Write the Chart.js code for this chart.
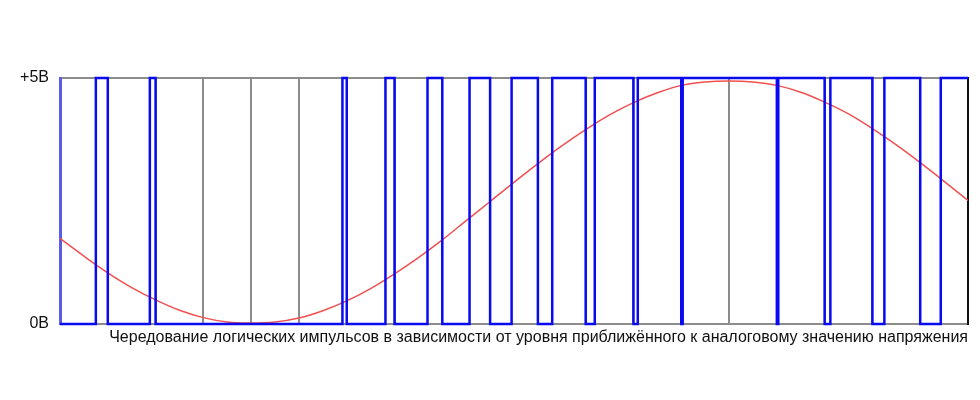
<!DOCTYPE html>
<html>
<head>
<meta charset="utf-8">
<title>ШИМ</title>
<script src="https://cdn.jsdelivr.net/npm/chart.js@4.4.0/dist/chart.umd.min.js"></script>
<style>
  body { margin: 0; background: #fff; }
  canvas { display: block; }
</style>
</head>
<body>
<canvas id="chart-pwm" width="980" height="400"></canvas>
<script>
// Number of pulse periods (one grid cell each)
const periodCount = 19;

// Share of each period where the output sits at +5V
const dutyCycle = [0.25, 0.12, 0, 0, 0, 0.09, 0.19, 0.31, 0.43, 0.55,
                   0.70, 0.81, 0.91, 0.97, 1, 0.97, 0.88, 0.75, 0.57];

// Analog voltage, read every half period
const analogX = [0, 0.5, 1, 1.5, 2, 2.5, 3, 3.5, 4, 4.5, 5, 5.5, 6, 6.5, 7, 7.5, 8, 8.5, 9, 9.5,
                 10, 10.5, 11, 11.5, 12, 12.5, 13, 13.5, 14, 14.5, 15, 15.5, 16, 16.5, 17, 17.5, 18, 18.5, 19];
const analogVolts = [1.74, 1.38, 1.04, 0.74, 0.49, 0.28, 0.13, 0.04, 0.02, 0.04, 0.12, 0.27, 0.47, 0.72,
                     1.02, 1.35, 1.71, 2.10, 2.49, 2.88, 3.26, 3.62, 3.95, 4.25, 4.50, 4.70, 4.85, 4.92,
                     4.94, 4.92, 4.85, 4.71, 4.51, 4.27, 3.97, 3.64, 3.28, 2.90, 2.51];

// Y tick labels
const yTickLabels = { 0: '0В', 5: '+5В' };

const axisTitle = 'Чередование логических импульсов в зависимости от уровня приближённого к аналоговому значению напряжения';

const fontFamily = "'Liberation Sans', Arial, sans-serif";

// Build the square wave: low at the start of each period, high at its end
const pulsePoints = [];
dutyCycle.forEach((duty, i) => {
  const rise = i + 1 - duty;
  if (duty < 1) {
    pulsePoints.push({ x: i, y: 0 }, { x: rise, y: 0 });
  }
  if (duty > 0) {
    pulsePoints.push({ x: rise, y: 5 }, { x: i + 1, y: 5 });
  }
});

const analogPoints = analogX.map((x, i) => ({ x: x, y: analogVolts[i] }));

const ctx = document.getElementById('chart-pwm').getContext('2d');

new Chart(ctx, {
  type: 'line',
  data: {
    datasets: [
      {
        label: 'pulses',
        data: pulsePoints,
        borderColor: '#0a0af0',
        borderWidth: 2.5,
        pointRadius: 0,
        tension: 0,
        fill: false,
        clip: 4
      },
      {
        label: 'analog',
        data: analogPoints,
        borderColor: '#f05050',
        borderWidth: 1.5,
        pointRadius: 0,
        tension: 0.4,
        fill: false,
        clip: 4
      }
    ]
  },
  options: {
    responsive: false,
    animation: false,
    layout: { padding: { top: 78, left: 0, right: 0, bottom: 0 } },
    plugins: {
      legend: { display: false },
      tooltip: { enabled: false }
    },
    scales: {
      x: {
        type: 'linear',
        min: 0,
        max: periodCount,
        ticks: { display: false, stepSize: 1 },
        grid: { color: '#8c8c8c', lineWidth: 2, drawTicks: false },
        border: { display: false },
        title: {
          display: true,
          text: axisTitle,
          align: 'end',
          color: '#111',
          font: { family: fontFamily, size: 16 },
          padding: { top: 0, bottom: 53 }
        },
        afterFit(scale) { scale.height = 76; }
      },
      y: {
        min: 0,
        max: 5,
        ticks: {
          stepSize: 5,
          padding: 11,
          color: '#111',
          font: { family: fontFamily, size: 16 },
          callback: (v) => yTickLabels[v]
        },
        grid: { color: '#8c8c8c', lineWidth: 2, drawTicks: false },
        border: { color: '#5c5ce6', width: 3 },
        afterFit(scale) { scale.width = 60; }
      },
      y2: {
        position: 'right',
        min: 0,
        max: 5,
        ticks: { display: false },
        grid: { display: false, drawTicks: false },
        border: { color: '#111', width: 2 },
        afterFit(scale) { scale.width = 12; }
      }
    }
  }
});
</script>
</body>
</html>
